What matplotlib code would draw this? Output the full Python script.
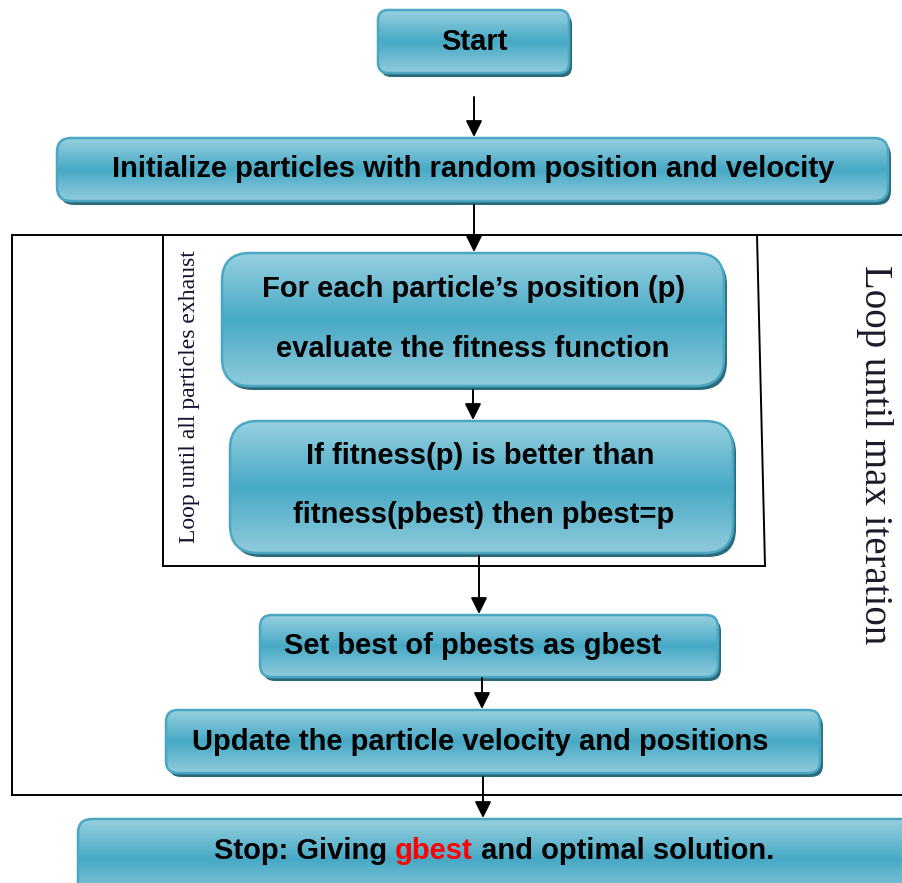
import numpy as np
import matplotlib
matplotlib.use("Agg")
import matplotlib.pyplot as plt
from matplotlib.patches import FancyBboxPatch
from matplotlib.colors import LinearSegmentedColormap

# ---- content ----
start_label = ["Start"]
init_label = ["Initialize particles with random position and velocity"]
eval_label = ["For each particle\u2019s position (p)", "evaluate the fitness function"]
pbest_label = ["If fitness(p) is better than", "fitness(pbest) then pbest=p"]
gbest_label = ["Set best of pbests as gbest"]
update_label = ["Update the particle velocity and positions"]
stop_parts = ["Stop: Giving ", "gbest", " and optimal solution."]
stop_colors = ["black", "#ff0000", "black"]
inner_loop_label = "Loop until all particles exhaust"
outer_loop_label = "Loop until max iteration"

# ---- layout (pixel coordinates) ----
W, H = 902, 883
boxes = [
    # x0, y0, x1, y1, radius, lines, text (x, y) positions
    (378, 10, 569, 73, 10, start_label, [(474, 42)]),
    (57, 138, 888, 201, 14, init_label, [(473, 169)]),
    (222, 253, 724, 386, 28, eval_label, [(474, 289), (473, 349)]),
    (230, 421, 733, 553, 28, pbest_label, [(480, 456), (484, 515)]),
    (260, 615, 718, 677, 12, gbest_label, [(473, 646)]),
    (166, 710, 820, 773, 12, update_label, [(480, 742)]),
    (78, 819, 930, 900, 14, None, [(494, 851)]),
]
arrows = [(474, 97, 137), (474, 205, 252), (473, 390, 420), (479, 556, 614),
          (482, 678, 709), (483, 777, 818)]

fig = plt.figure(figsize=(W / 100, H / 100), dpi=100)
ax = fig.add_axes([0, 0, 1, 1])
ax.set_xlim(0, W)
ax.set_ylim(H, 0)
ax.axis("off")

cmap = LinearSegmentedColormap.from_list(
    "glass", [(0, "#97d0e0"), (0.5, "#47a9c5"), (1, "#90cbdc")])
grad = np.linspace(0, 1, 256).reshape(-1, 1)

FONT = "Liberation Sans"
FS = 21

for (x0, y0, x1, y1, r, lines, pos) in boxes:
    w, h = x1 - x0, y1 - y0
    sh = FancyBboxPatch((x0 + 3, y0 + 4), w, h,
                        boxstyle=f"round,pad=0,rounding_size={r}",
                        fc="#2c6b7c", ec="none", zorder=2)
    ax.add_patch(sh)
    body = FancyBboxPatch((x0, y0), w, h,
                          boxstyle=f"round,pad=0,rounding_size={r}",
                          fc="none", ec="#4aa7c3", lw=1.8, zorder=4)
    ax.add_patch(body)
    im = ax.imshow(grad, extent=(x0, x1, y1, y0), cmap=cmap, aspect="auto",
                   origin="upper", zorder=3, interpolation="bilinear")
    im.set_clip_path(body)
    if lines:
        for t, (tx, ty) in zip(lines, pos):
            ax.text(tx, ty, t, ha="center",
                    va="center", fontsize=FS, fontweight="bold",
                    family=FONT, color="black", zorder=5)

ax.set_xlim(0, W)
ax.set_ylim(H, 0)

# Stop text with red gbest
renderer = fig.canvas.get_renderer()
texts = []
for part, col in zip(stop_parts, stop_colors):
    t = ax.text(0, 851, part, ha="left", va="center", fontsize=FS,
                fontweight="bold", family=FONT, color=col, zorder=5)
    texts.append(t)
widths = [t.get_window_extent(renderer).width for t in texts]
total = sum(widths)
x = 494 - total / 2
for t, wd in zip(texts, widths):
    t.set_x(x)
    x += wd

# loop frames
lk = dict(color="black", lw=1.4, zorder=1)
ax.plot([12, W], [235, 235], **lk)
ax.plot([12, 12], [235, 795], **lk)
ax.plot([12, W], [795, 795], **lk)
ax.plot([163, 163], [235, 566], **lk)
ax.plot([163, 765], [566, 566], **lk)
ax.plot([757, 765], [235, 566], **lk)

# arrows
for (x, ya, yb) in arrows:
    ax.annotate("", xy=(x, yb), xytext=(x, ya),
                arrowprops=dict(arrowstyle="-|>,head_length=0.9,head_width=0.45",
                                color="black", lw=1.4, shrinkA=0, shrinkB=0,
                                mutation_scale=11), zorder=6)

# vertical loop labels
ax.text(190, 397, inner_loop_label, rotation=90, ha="center", va="center",
        fontsize=17, family="Liberation Serif", color="#141430", zorder=5)
ax.text(875, 455, outer_loop_label, rotation=-90, ha="center", va="center",
        fontsize=28, family="Liberation Serif", color="#1a1a2a", zorder=5)

fig.savefig("out.png", dpi=100)
